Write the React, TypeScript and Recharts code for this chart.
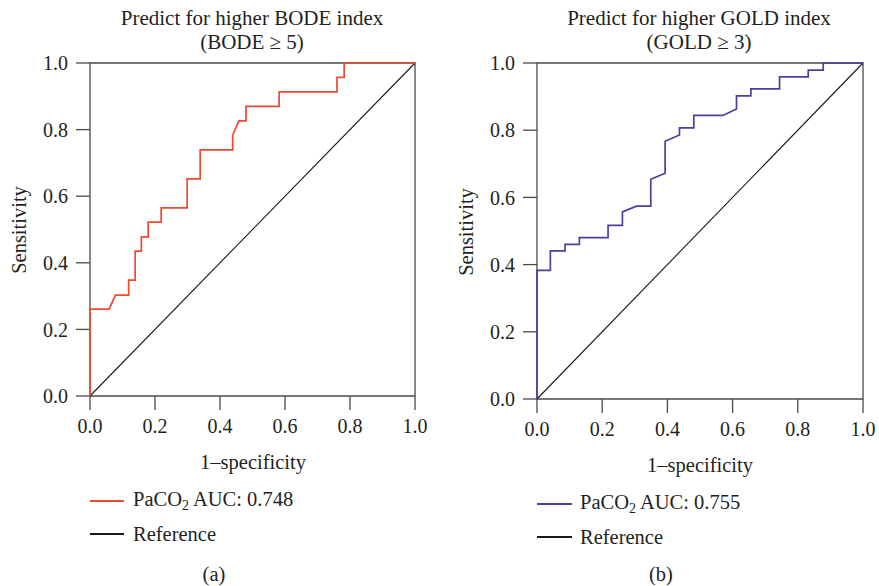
import React from "react";
import { LineChart, Line, XAxis, YAxis, ReferenceArea } from "recharts";

const axisTicks = [0, 0.2, 0.4, 0.6, 0.8, 1.0];

const bodeFpr = [0, 0, 0.059, 0.078, 0.119, 0.119, 0.139, 0.139, 0.158, 0.158, 0.179, 0.179, 0.219, 0.219, 0.299, 0.299, 0.339, 0.339, 0.439, 0.439, 0.458, 0.48, 0.48, 0.582, 0.582, 0.76, 0.76, 0.782, 0.782, 1];
const bodeTpr = [0, 0.261, 0.261, 0.303, 0.303, 0.348, 0.348, 0.435, 0.435, 0.478, 0.478, 0.522, 0.522, 0.565, 0.565, 0.652, 0.652, 0.739, 0.739, 0.783, 0.826, 0.826, 0.87, 0.87, 0.913, 0.913, 0.957, 0.957, 1, 1];

const goldFpr = [0, 0, 0.041, 0.041, 0.086, 0.086, 0.13, 0.13, 0.218, 0.218, 0.262, 0.262, 0.305, 0.349, 0.349, 0.393, 0.393, 0.437, 0.437, 0.481, 0.481, 0.57, 0.612, 0.612, 0.656, 0.656, 0.744, 0.744, 0.832, 0.832, 0.878, 0.878, 1];
const goldTpr = [0, 0.383, 0.383, 0.441, 0.441, 0.46, 0.46, 0.48, 0.48, 0.517, 0.517, 0.557, 0.574, 0.574, 0.654, 0.672, 0.767, 0.786, 0.807, 0.807, 0.844, 0.844, 0.863, 0.902, 0.902, 0.923, 0.923, 0.959, 0.959, 0.979, 0.979, 1, 1];

const refX = [0, 1];
const refY = [0, 1];

const bodeData = bodeFpr.map((x, i) => ({ x, y: bodeTpr[i] }));
const goldData = goldFpr.map((x, i) => ({ x, y: goldTpr[i] }));
const refData = refX.map((x, i) => ({ x, y: refY[i] }));

const FONT = "'Liberation Serif', 'DejaVu Serif', serif";
const AXIS = "#4a4a4a";
const TXT = "#231f20";
const RED = "#ee4a32";
const BLUE = "#4b3f9e";

const tickStyle = { fontFamily: FONT, fontSize: 20, fill: TXT };

function Txt({ x, y, children, size = 20, rotate = false, align = "center" }: any) {
  const tx = align === "center" ? "-50%" : "0";
  return (
    <div
      style={{
        position: "absolute",
        left: x,
        top: y,
        transform: `translate(${tx}, -50%)${rotate ? " rotate(-90deg)" : ""}`,
        transformOrigin: "center center",
        fontFamily: FONT,
        fontSize: size,
        color: TXT,
        whiteSpace: "nowrap",
        lineHeight: 1,
      }}
    >
      {children}
    </div>
  );
}

function Swatch({ x, y, w, color }: any) {
  return <div style={{ position: "absolute", left: x, top: y - 1, width: w, height: 1.6, background: color }} />;
}

function Panel({ data, color, left, width, height, mLeft, mRight, bottom }: any) {
  return (
    <div style={{ position: "absolute", left, top: 0 }}>
      <LineChart
        width={width}
        height={height}
        margin={{ top: 63, left: mLeft, right: mRight, bottom }}
      >
        <ReferenceArea x1={0} x2={1} y1={0} y2={1} fill="none" stroke={AXIS} strokeWidth={1.3} />
        <XAxis
          dataKey="x"
          type="number"
          domain={[0, 1]}
          ticks={axisTicks}
          tickFormatter={(v: number) => v.toFixed(1)}
          tick={tickStyle}
          tickSize={14}
          tickMargin={9}
          stroke={AXIS}
          strokeWidth={1.3}
          axisLine={false}
          height={40}
          allowDuplicatedCategory={false}
        />
        <YAxis
          dataKey="y"
          type="number"
          domain={[0, 1]}
          ticks={axisTicks}
          tickFormatter={(v: number) => v.toFixed(1)}
          tick={tickStyle}
          tickSize={14}
          tickMargin={8}
          stroke={AXIS}
          strokeWidth={1.3}
          axisLine={false}
          width={50}
        />
        <Line data={refData} dataKey="y" type="linear" stroke="#1a1a1a" strokeWidth={1.1} dot={false} isAnimationActive={false} zIndex={1000} />
        <Line data={data} dataKey="y" type="linear" stroke={color} strokeWidth={1.7} dot={false} isAnimationActive={false} zIndex={1001} />
      </LineChart>
    </div>
  );
}

export default function App() {
  return (
    <div style={{ position: "absolute", left: 0, top: 0, width: 879, height: 586, background: "#fff", overflow: "hidden" }}>
      <Panel data={bodeData} color={RED} left={0} width={440} height={500} mLeft={40} mRight={25} bottom={64} />
      <Panel data={goldData} color={BLUE} left={440} width={439} height={500} mLeft={47} mRight={16} bottom={61} />

      <Txt x={252} y={18} size={21}>Predict for higher BODE index</Txt>
      <Txt x={252} y={42} size={21}>(BODE ≥ 5)</Txt>
      <Txt x={699} y={18} size={21}>Predict for higher GOLD index</Txt>
      <Txt x={699} y={42} size={21}>(GOLD ≥ 3)</Txt>

      <Txt x={253} y={462} size={20.5}>1–specificity</Txt>
      <Txt x={700} y={465} size={20.5}>1–specificity</Txt>
      <Txt x={19} y={230} size={20.5} rotate>Sensitivity</Txt>
      <Txt x={466} y={232} size={20.5} rotate>Sensitivity</Txt>

      <Swatch x={90} y={501} w={34} color={RED} />
      <Txt x={133} y={501} align="left" size={20.5}>PaCO<sub style={{ fontSize: 14, verticalAlign: "-0.25em" }}>2</sub> AUC: 0.748</Txt>
      <Swatch x={90} y={534} w={34} color="#1a1a1a" />
      <Txt x={133} y={534} align="left" size={20.5}>Reference</Txt>
      <Txt x={214} y={574} size={20.5}>(a)</Txt>

      <Swatch x={537} y={504} w={35} color={BLUE} />
      <Txt x={580} y={504} align="left" size={20.5}>PaCO<sub style={{ fontSize: 14, verticalAlign: "-0.25em" }}>2</sub> AUC: 0.755</Txt>
      <Swatch x={537} y={537} w={35} color="#1a1a1a" />
      <Txt x={580} y={537} align="left" size={20.5}>Reference</Txt>
      <Txt x={661} y={574} size={20.5}>(b)</Txt>
    </div>
  );
}
